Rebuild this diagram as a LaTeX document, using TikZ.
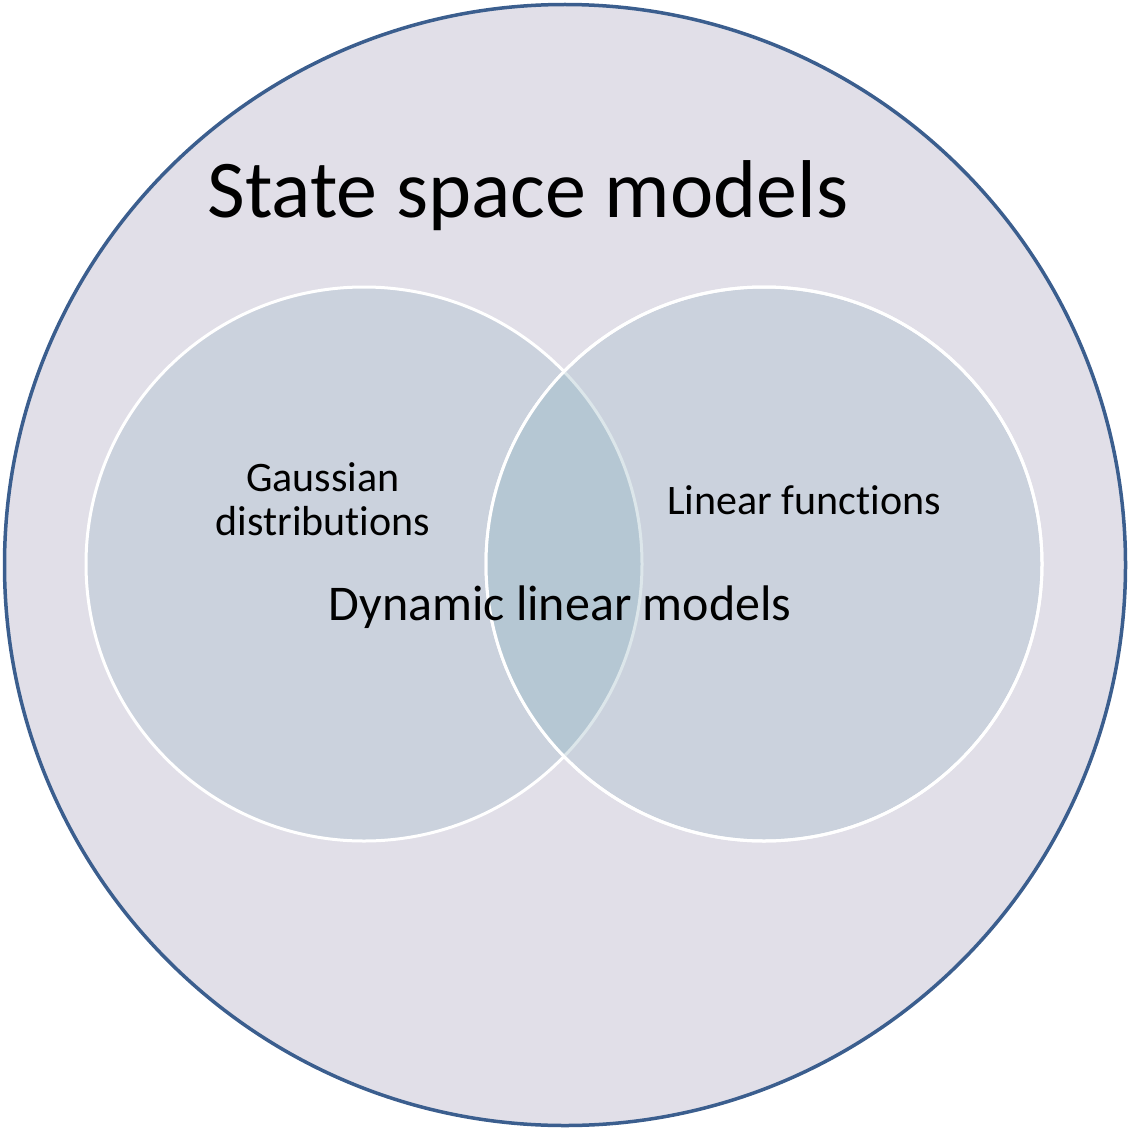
\documentclass[tikz,border=0pt]{standalone}
\usepackage{fontspec}
\setmainfont{Carlito}[Ligatures=NoCommon]
\usetikzlibrary{shapes.geometric}
\definecolor{outerfill}{HTML}{E1DFE8}
\definecolor{outerline}{HTML}{3B5E8E}
\definecolor{innerfill}{HTML}{CBD2DD}
\definecolor{lensfill}{HTML}{B5C7D3}
\definecolor{fadeline}{HTML}{DCE6EA}
\begin{document}
\begin{tikzpicture}[x=1pt,y=-1pt,
  setcircle/.style={fill=innerfill,draw=white,line width=3pt},
  lbl/.style={inner sep=0pt,text=black,align=center}]
\useasboundingbox (0,0) rectangle (1129,1129);
\node[circle,draw=outerline,fill=outerfill,line width=3.5pt,minimum size=1121pt,inner sep=0pt] (ssm) at (565,565) {};
\node[ellipse,setcircle,minimum width=556pt,minimum height=554pt,inner sep=0pt] (gauss) at (364,564) {};
\node[ellipse,setcircle,minimum width=556pt,minimum height=554pt,inner sep=0pt] (lin) at (764,564) {};
\begin{scope}
  \clip (764,564) ellipse [x radius=278, y radius=277];
  \fill[lensfill] (364,564) ellipse [x radius=278, y radius=277];
  \draw[fadeline,line width=3pt] (364,564) ellipse [x radius=278, y radius=277];
\end{scope}
\draw[white,line width=3pt] (764,564) ellipse [x radius=278, y radius=277];
\node[lbl,font=\fontsize{82}{90}\selectfont,anchor=base] (title) at (528,217) {State space models};
\node[lbl,font=\fontsize{42}{44}\selectfont] (gtext) at (323,499) {Gaussian\\distributions};
\node[lbl,font=\fontsize{42}{44}\selectfont,anchor=base] (ltext) at (804,514) {Linear functions};
\node[lbl,font=\fontsize{50}{54}\selectfont,anchor=base] (dtext) at (560,620) {Dynamic linear models};
\end{tikzpicture}
\end{document}
